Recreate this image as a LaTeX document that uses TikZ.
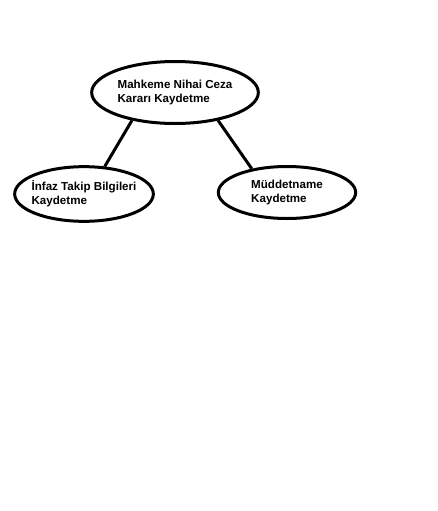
\documentclass[tikz,border=0pt]{standalone}
\usepackage{fontspec}
\setmainfont{Liberation Sans}
\usetikzlibrary{shapes.geometric}

\begin{document}
\begin{tikzpicture}[x=0.75pt,y=-0.75pt,
  oval/.style={draw, ellipse, line width=2.25pt, inner xsep=-6pt, inner ysep=0pt,
    align=left, font=\bfseries\fontsize{8.7}{10.5}\selectfont},
  link/.style={line width=2.25pt}]
\useasboundingbox (0,0) rectangle (438,511);
\node[oval, minimum width=125pt, minimum height=46.5pt] (karar) at (175,92.5) {Mahkeme Nihai Ceza\\Kararı Kaydetme};
\node[oval, minimum width=104pt, minimum height=41pt] (infaz) at (84,194) {İnfaz Takip Bilgileri\\Kaydetme};
\node[oval, minimum width=103pt, minimum height=39pt] (muddet) at (287,192.5) {Müddetname\\Kaydetme};
\draw[link] (karar.-147) -- (infaz.53);
\draw[link] (karar.-33) -- (muddet.146);
\end{tikzpicture}
\end{document}
